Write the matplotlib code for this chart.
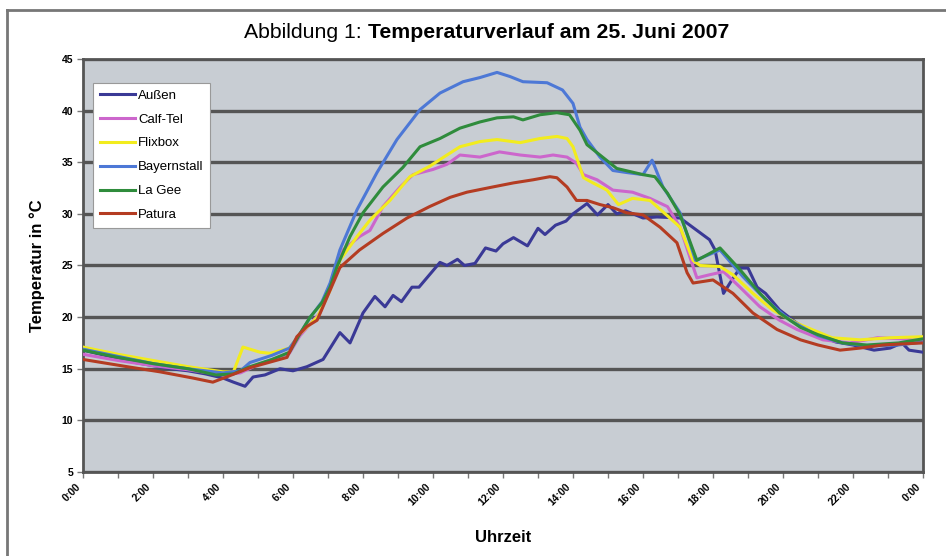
import numpy as np
import matplotlib.pyplot as plt
from matplotlib.lines import Line2D

plt.rcParams['font.family'] = ['Liberation Sans', 'DejaVu Sans']

h_aussen = [0, 0.5, 1, 1.5, 2, 2.5, 3, 3.5, 4, 4.3, 4.63, 4.86, 5.2, 5.63, 6.0, 6.4, 6.86,
            7.34, 7.63, 7.9, 8.0, 8.34, 8.63, 8.86, 9.1, 9.4, 9.6, 9.9, 10.2, 10.4, 10.7,
            10.9, 11.2, 11.5, 11.8, 12.0, 12.3, 12.7, 13.0, 13.2, 13.5, 13.8, 14.0, 14.4,
            14.7, 15.0, 15.25, 15.5, 16.0, 16.4, 17.06, 17.4, 17.9, 18.06, 18.3, 18.54,
            18.77, 19.0, 19.26, 19.5, 19.9, 20.4, 20.97, 21.5, 22.0, 22.6, 23.06, 23.4,
            23.6, 24]
t_aussen = [16.8, 16.4, 16.0, 15.6, 15.3, 15.0, 14.8, 14.5, 14.1, 13.7, 13.3, 14.2, 14.4,
            15.0, 14.8, 15.2, 15.9, 18.5, 17.5, 19.6, 20.4, 22.0, 21.0, 22.1, 21.5, 22.9,
            22.9, 24.1, 25.3, 25.0, 25.6, 25.0, 25.2, 26.7, 26.4, 27.1, 27.7, 26.9, 28.6,
            28.0, 28.9, 29.3, 30.0, 31.0, 29.9, 30.9, 30.0, 30.3, 29.6, 29.7, 29.6, 28.75,
            27.5, 26.5, 22.3, 23.6, 24.75, 24.75, 22.9, 22.3, 20.7, 19.4, 18.3, 17.6, 17.3,
            16.8, 17.0, 17.5, 16.8, 16.6]

h_calf = [0, 1, 2, 3, 4, 4.5, 5.0, 5.9, 6.2, 6.77, 7.14, 7.43, 7.9, 8.2, 8.57, 9.06, 9.43,
          10.0, 10.4, 10.77, 11.34, 11.9, 12.49, 13.06, 13.43, 13.83, 14.1, 14.3, 14.69,
          15.14, 15.7, 16.2, 16.7, 17.06, 17.34, 17.54, 17.9, 18.3, 18.77, 19.34, 19.9,
          20.4, 21.14, 21.9, 22.7, 23.4, 24]
t_calf = [16.4, 15.8, 15.3, 14.9, 14.4, 14.6, 15.4, 16.5, 18.2, 20.4, 23.6, 26.5, 27.8,
          28.4, 30.7, 32.6, 33.8, 34.3, 34.8, 35.7, 35.5, 36.0, 35.7, 35.5, 35.7, 35.5,
          34.9, 33.8, 33.3, 32.3, 32.1, 31.5, 30.7, 28.7, 25.8, 23.8, 24.1, 24.4, 22.9,
          21.0, 19.7, 18.8, 17.8, 17.5, 18.0, 17.9, 17.7]

h_flix = [0, 1, 2, 3, 4, 4.3, 4.57, 5.06, 5.34, 5.9, 6.2, 6.7, 7.06, 7.34, 7.83, 8.2, 8.77,
          9.34, 9.9, 10.4, 10.77, 11.34, 11.83, 12.49, 13.06, 13.54, 13.83, 14.0, 14.2,
          14.3, 14.57, 14.97, 15.3, 15.7, 16.2, 16.57, 17.06, 17.43, 17.63, 18.2, 18.57,
          19.14, 19.7, 20.4, 21.4, 22.2, 23.06, 24]
t_flix = [17.1, 16.4, 15.8, 15.2, 14.7, 14.7, 17.1, 16.6, 16.5, 17.0, 18.4, 20.0, 22.6,
          25.5, 27.8, 29.4, 31.3, 33.6, 34.6, 35.7, 36.5, 37.0, 37.2, 36.9, 37.3, 37.5,
          37.3, 36.5, 34.5, 33.5, 33.0, 32.3, 30.9, 31.5, 31.3, 30.2, 28.7, 25.5, 25.0,
          24.9, 24.1, 22.3, 20.7, 19.4, 18.0, 17.8, 18.0, 18.1]

h_bayern = [0, 1, 2, 3, 4, 4.5, 4.77, 5.4, 5.9, 6.2, 6.5, 6.83, 7.06, 7.34, 7.83, 8.4,
            8.97, 9.63, 10.2, 10.86, 11.34, 11.83, 12.2, 12.57, 13.26, 13.7, 14.0, 14.2,
            14.4, 14.77, 15.14, 15.54, 16.0, 16.26, 16.57, 17.06, 17.5, 18.2, 18.86, 19.5,
            20.2, 21.0, 21.7, 22.4, 23.3, 24]
t_bayern = [16.9, 16.2, 15.5, 15.0, 14.6, 14.8, 15.6, 16.3, 17.0, 18.4, 20.0, 21.5, 23.3,
            26.5, 30.4, 34.0, 37.2, 40.1, 41.7, 42.8, 43.2, 43.7, 43.3, 42.8, 42.7, 42.0,
            40.7, 38.4, 37.2, 35.5, 34.2, 34.0, 33.8, 35.2, 32.6, 30.1, 25.5, 26.5, 23.9,
            21.7, 19.7, 18.2, 17.5, 17.2, 17.3, 17.6]

h_lagee = [0, 1, 2, 3, 3.8, 4.3, 4.77, 5.4, 5.9, 6.2, 6.49, 6.83, 7.06, 7.26, 7.63, 8.0,
           8.57, 9.14, 9.63, 10.2, 10.77, 11.34, 11.83, 12.3, 12.57, 13.06, 13.54, 13.9,
           14.2, 14.4, 14.77, 15.25, 16.0, 16.34, 16.7, 17.06, 17.54, 18.2, 18.77, 19.34,
           19.9, 20.5, 21.0, 21.7, 22.4, 23.3, 24]
t_lagee = [16.8, 16.1, 15.5, 15.0, 14.4, 14.5, 15.2, 15.9, 16.6, 18.4, 20.0, 21.4, 22.9,
           24.9, 27.8, 30.1, 32.6, 34.5, 36.5, 37.3, 38.3, 38.9, 39.3, 39.4, 39.1, 39.6,
           39.8, 39.6, 38.1, 36.7, 35.7, 34.4, 33.8, 33.6, 32.0, 29.9, 25.5, 26.7, 24.6,
           22.3, 20.4, 19.0, 18.3, 17.5, 17.3, 17.5, 17.9]

h_patura = [0, 1.26, 2.2, 3.14, 3.71, 4.1, 4.77, 5.3, 5.83, 6.11, 6.4, 6.69, 7.06, 7.34,
            7.9, 8.57, 9.26, 9.9, 10.49, 10.97, 11.7, 12.3, 12.86, 13.34, 13.54, 13.83,
            14.1, 14.4, 14.77, 15.14, 15.54, 16.0, 16.49, 16.97, 17.26, 17.43, 18.0, 18.57,
            19.14, 19.83, 20.5, 21.0, 21.63, 22.2, 22.86, 23.4, 24]
t_patura = [15.9, 15.2, 14.7, 14.1, 13.7, 14.2, 15.1, 15.6, 16.1, 18.1, 19.1, 19.7, 22.6,
            24.8, 26.5, 28.1, 29.6, 30.7, 31.6, 32.1, 32.6, 33.0, 33.3, 33.6, 33.5, 32.6,
            31.3, 31.3, 30.9, 30.6, 30.1, 29.9, 28.7, 27.2, 24.3, 23.3, 23.6, 22.3, 20.4,
            18.8, 17.8, 17.3, 16.8, 17.0, 17.3, 17.4, 17.5]

namen = ['Außen', 'Calf-Tel', 'Flixbox', 'Bayernstall', 'La Gee', 'Patura']
farben = ['#3a3996', '#cc66cc', '#f2ec1e', '#4d78d6', '#2f8c3c', '#b43c22']
serien = [(h_aussen, t_aussen), (h_calf, t_calf), (h_flix, t_flix),
          (h_bayern, t_bayern), (h_lagee, t_lagee), (h_patura, t_patura)]

x_ticks = list(range(0, 25, 2))
x_labels = ['%d:00' % (t % 24) for t in x_ticks]
y_ticks = list(range(5, 50, 5))

fig = plt.figure(figsize=(9.46, 5.56), dpi=100)
ax = fig.add_axes([0.0877, 0.1511, 0.888, 0.7428])
ax.set_facecolor('#c8cdd3')

for y in y_ticks:
    ax.axhline(y, color='#555555', lw=2.4, zorder=1)

for (hh, tt), name, c in zip(serien, namen, farben):
    ax.plot(hh, tt, color=c, lw=2.2, label=name, zorder=3)

ax.set_xlim(0, 24)
ax.set_ylim(5, 45)
ax.set_xticks(x_ticks)
ax.set_xticks(range(0, 25), minor=True)
ax.set_xticklabels(x_labels, rotation=45, ha='right', va='top',
                   fontsize=7.5, fontweight='bold')
ax.set_yticks(y_ticks)
ax.set_yticklabels([str(v) for v in y_ticks], fontsize=7.5, fontweight='bold')
ax.tick_params(axis='both', which='both', length=4, width=1, color='#777777', pad=3)
for s in ax.spines.values():
    s.set_color('#555555')
    s.set_linewidth(2)

ax.set_xlabel('Uhrzeit', fontsize=12, fontweight='bold', labelpad=16)
ax.set_ylabel('Temperatur in °C', fontsize=12, fontweight='bold', labelpad=12)

leg = ax.legend(loc='upper left', bbox_to_anchor=(0.012, 0.942), fontsize=9.5,
                frameon=True, fancybox=False, edgecolor='#999999',
                handlelength=2.7, handletextpad=0.2, labelspacing=0.88,
                borderpad=0.5, borderaxespad=0)
leg.get_frame().set_linewidth(0.8)
leg.get_frame().set_alpha(1)

# Titel: normaler und fetter Teil
t1 = fig.text(244 / 946, 1 - 32 / 556, 'Abbildung 1: ', fontsize=15.3, va='center', ha='left')
ax.annotate('Temperaturverlauf am 25. Juni 2007', xy=(1, 0.5), xycoords=t1,
            va='center', ha='left', fontsize=15.3, fontweight='bold')

# Rahmen um die Grafik
fig.add_artist(Line2D([7 / 946, 7 / 946], [0, 1 - 10 / 556], color='#777777', lw=2))
fig.add_artist(Line2D([7 / 946, 1], [1 - 10 / 556, 1 - 10 / 556], color='#777777', lw=2))

plt.savefig('out.png', dpi=100)
